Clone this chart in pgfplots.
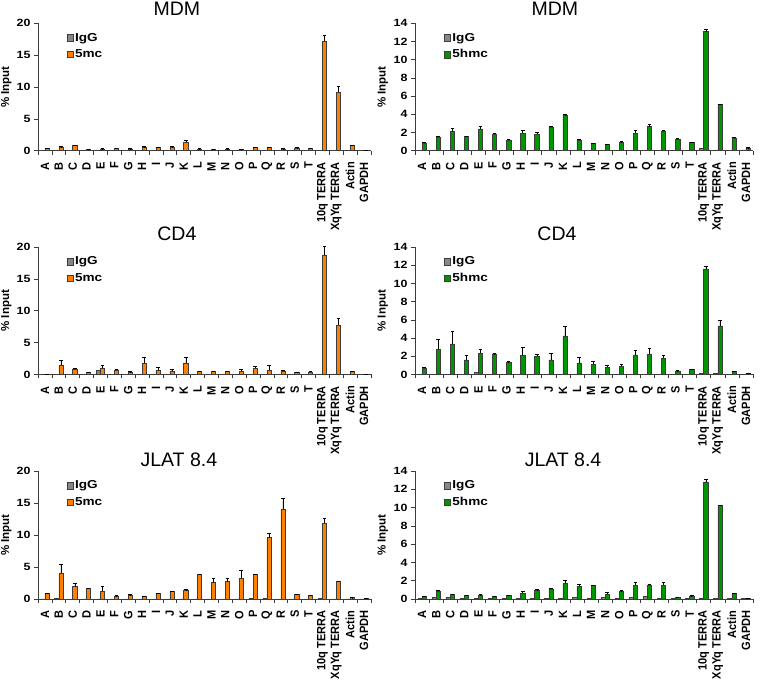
\documentclass[border=0pt]{standalone}
\usepackage{fontspec}
\setmainfont{Liberation Sans}
\newfontfamily\wide{Liberation Sans}[FakeStretch=1.18]
\newfontfamily\narrow{Liberation Sans}[FakeStretch=0.92]
\usepackage{pgfplots}
\usepackage{pgfplotstable}
\pgfplotsset{compat=1.18}

\definecolor{igg}{RGB}{135,135,135}
\definecolor{mc}{RGB}{255,128,0}
\definecolor{hmc}{RGB}{0,150,0}
\definecolor{edge}{RGB}{60,60,60}

% columns: x, IgG, antibody value, error (upward)
\pgfplotstableread{
x igg v e
0 0.05 0.40 0.05
1 0.05 0.60 0.05
2 0.05 0.80 0.05
3 0.05 0.20 0.02
4 0.05 0.30 0.03
5 0.05 0.40 0.03
6 0.05 0.30 0.03
7 0.05 0.60 0.03
8 0.05 0.55 0.03
9 0.05 0.60 0.05
10 0.05 1.35 0.25
11 0.05 0.30 0.03
12 0.05 0.25 0.03
13 0.05 0.30 0.03
14 0.05 0.20 0.03
15 0.05 0.50 0.03
16 0.05 0.55 0.03
17 0.05 0.30 0.02
18 0.05 0.45 0.03
19 0.05 0.35 0.03
20 0.08 17.2 0.9
21 0.08 9.2 0.85
22 0.05 0.80 0.05
23 0.05 0.10 0.02
}\mdmmc

\pgfplotstableread{
x igg v e
0 0.05 0.85 0.10
1 0.10 1.50 0.10
2 0.05 2.10 0.35
3 0.05 1.55 0.08
4 0.05 2.40 0.30
5 0.05 1.80 0.10
6 0.05 1.20 0.10
7 0.05 1.90 0.30
8 0.05 1.83 0.20
9 0.05 2.60 0.10
10 0.05 3.90 0.05
11 0.05 1.20 0.05
12 0.05 0.84 0.03
13 0.05 0.70 0.05
14 0.05 0.90 0.10
15 0.05 1.94 0.30
16 0.05 2.64 0.30
17 0.05 2.16 0.10
18 0.05 1.25 0.10
19 0.05 0.95 0.03
20 0.25 13.08 0.30
21 0.10 5.09 0.05
22 0.05 1.39 0.10
23 0.10 0.30 0.05
}\mdmhmc

\pgfplotstableread{
x igg v e
0 0.02 0.03 0.00
1 0.05 1.47 0.70
2 0.05 0.90 0.05
3 0.05 0.30 0.05
4 0.70 1.05 0.40
5 0.05 0.73 0.10
6 0.05 0.40 0.05
7 0.05 1.73 0.95
8 0.05 0.70 0.40
9 0.05 0.55 0.30
10 0.05 1.73 0.90
11 0.05 0.50 0.05
12 0.05 0.45 0.05
13 0.05 0.45 0.05
14 0.05 0.50 0.30
15 0.05 1.00 0.30
16 0.05 0.70 0.75
17 0.05 0.55 0.10
18 0.05 0.30 0.05
19 0.05 0.40 0.10
20 0.10 18.7 1.35
21 0.10 7.75 1.10
22 0.05 0.45 0.10
23 0.03 0.05 0.00
}\cdmc

\pgfplotstableread{
x igg v e
0 0.03 0.73 0.10
1 0.03 2.75 1.10
2 0.03 3.37 1.40
3 0.03 1.60 0.55
4 0.25 2.34 0.40
5 0.03 2.20 0.10
6 0.03 1.32 0.08
7 0.03 2.09 0.85
8 0.03 1.98 0.25
9 0.03 1.60 0.77
10 0.03 4.25 1.10
11 0.03 1.28 0.60
12 0.03 1.13 0.30
13 0.03 0.77 0.20
14 0.03 0.88 0.20
15 0.03 2.16 0.50
16 0.03 2.23 0.60
17 0.03 1.76 0.30
18 0.03 0.40 0.03
19 0.03 0.58 0.05
20 0.15 11.6 0.30
21 0.10 5.35 0.60
22 0.03 0.33 0.05
23 0.05 0.15 0.02
}\cdhmc

\pgfplotstableread{
x igg v e
0 0.03 0.83 0.05
1 0.10 4.05 1.35
2 0.03 1.92 0.60
3 0.03 1.70 0.05
4 0.03 1.20 0.80
5 0.03 0.47 0.05
6 0.03 0.62 0.05
7 0.03 0.36 0.05
8 0.03 0.83 0.05
9 0.03 1.20 0.05
10 0.03 1.35 0.10
11 0.03 3.80 0.10
12 0.03 2.55 0.70
13 0.03 2.70 0.57
14 0.03 3.27 1.15
15 0.15 3.85 0.05
16 0.15 9.60 0.70
17 0.03 14.0 1.75
18 0.03 0.68 0.05
19 0.03 0.52 0.05
20 0.05 11.85 0.80
21 0.03 2.75 0.05
22 0.03 0.20 0.02
23 0.03 0.10 0.02
}\jlmc

\pgfplotstableread{
x igg v e
0 0.03 0.29 0.03
1 0.15 0.84 0.10
2 0.15 0.50 0.05
3 0.03 0.40 0.05
4 0.03 0.44 0.03
5 0.03 0.29 0.03
6 0.10 0.36 0.03
7 0.03 0.62 0.20
8 0.03 0.99 0.03
9 0.03 1.06 0.10
10 0.05 1.72 0.35
11 0.20 1.42 0.20
12 0.03 1.50 0.03
13 0.15 0.50 0.25
14 0.03 0.88 0.03
15 0.15 1.53 0.30
16 0.25 1.53 0.10
17 0.03 1.50 0.30
18 0.03 0.18 0.02
19 0.10 0.33 0.05
20 0.05 12.8 0.30
21 0.05 10.2 0.10
22 0.10 0.58 0.05
23 0.03 0.07 0.02
}\jlhmc

\pgfplotsset{
  panel/.style={
    scale only axis,
    ybar,
    bar width=0.3,
    xmin=-0.5, xmax=23.5, ymin=0,
    axis x line*=bottom, axis y line*=left,
    axis line style={-, edge, line width=0.7pt},
    tick align=outside,
    major tick length=4pt, minor tick length=4pt,
    tick style={edge, line width=0.6pt},
    xtick={0,...,23},
    xticklabels={A,B,C,D,E,F,G,H,I,J,K,L,M,N,O,P,Q,R,S,T,10q TERRA,XqYq TERRA,Actin,GAPDH},
    major x tick style={draw=none},
    minor xtick={-0.5,0.5,...,23.5},
    xticklabel shift=4pt,
    x tick label style={rotate=90, anchor=east, font=\fontsize{12}{12}\narrow\bfseries},
    y tick label style={font=\fontsize{10.5}{10.5}\wide\bfseries},
    /pgf/number format/assume math mode=true,
    ylabel={\% Input},
    ylabel style={at={(axis description cs:-0.095,0.5)}, anchor=center, font=\fontsize{11.5}{11.5}\selectfont\bfseries},
    title style={font=\fontsize{19.5}{19.5}\selectfont, anchor=base},
    legend style={draw=none, fill=none, at={(axis description cs:0.085,0.94)}, anchor=north west,
      font=\fontsize{11.5}{11.5}\wide\bfseries, row sep=3pt, inner sep=0pt},
    legend cell align=left,
    legend image code/.code={\draw[#1] (0pt,-3.2pt) rectangle (6pt,3.2pt);},
  },
  mcax/.style={panel, width=333pt, ymax=20, ytick={0,5,...,20}},
  hmcax/.style={panel, width=338pt, ymax=14, ytick={0,2,...,14}},
  iggbar/.style={fill=igg, draw=edge, line width=0.5pt, bar shift=-0.15},
  mainbar/.style={fill=#1, draw=edge, line width=0.5pt, bar shift=0.15,
    error bars/.cd, y dir=plus, y explicit,
    error bar style={black, line width=0.5pt},
    error mark options={rotate=90, mark size=1.8pt, line width=0.5pt, black}},
}

\begin{document}
\begin{tikzpicture}
\useasboundingbox (0,0) rectangle (760pt,682pt);

% row 1
\begin{axis}[mcax, height=127.4pt, at={(38pt,531.3pt)}, anchor=south west,
  title={MDM}, title style={at={(axis description cs:0.417,1)}, yshift=1.5pt}]
\addplot[iggbar] table[x=x,y=igg]{\mdmmc};
\addplot[mainbar=mc] table[x=x,y=v,y error=e]{\mdmmc};
\legend{IgG,5mc}
\end{axis}

\begin{axis}[hmcax, height=127.4pt, at={(415pt,531.3pt)}, anchor=south west,
  title={MDM}, title style={at={(axis description cs:0.414,1)}, yshift=1.5pt}]
\addplot[iggbar] table[x=x,y=igg]{\mdmhmc};
\addplot[mainbar=hmc] table[x=x,y=v,y error=e]{\mdmhmc};
\legend{IgG,5hmc}
\end{axis}

% row 2
\begin{axis}[mcax, height=127.5pt, at={(38pt,307.5pt)}, anchor=south west,
  title={CD4}, title style={at={(axis description cs:0.417,1)}}]
\addplot[iggbar] table[x=x,y=igg]{\cdmc};
\addplot[mainbar=mc] table[x=x,y=v,y error=e]{\cdmc};
\legend{IgG,5mc}
\end{axis}

\begin{axis}[hmcax, height=127.5pt, at={(415pt,307.5pt)}, anchor=south west,
  title={CD4}, title style={at={(axis description cs:0.42,1)}}]
\addplot[iggbar] table[x=x,y=igg]{\cdhmc};
\addplot[mainbar=hmc] table[x=x,y=v,y error=e]{\cdhmc};
\legend{IgG,5hmc}
\end{axis}

% row 3
\begin{axis}[mcax, height=128pt, at={(38pt,83pt)}, anchor=south west,
  title={JLAT 8.4}, title style={at={(axis description cs:0.423,1)}, yshift=-2pt}]
\addplot[iggbar] table[x=x,y=igg]{\jlmc};
\addplot[mainbar=mc] table[x=x,y=v,y error=e]{\jlmc};
\legend{IgG,5mc}
\end{axis}

\begin{axis}[hmcax, height=128pt, at={(415pt,83pt)}, anchor=south west,
  title={JLAT 8.4}, title style={at={(axis description cs:0.438,1)}, yshift=-2pt}]
\addplot[iggbar] table[x=x,y=igg]{\jlhmc};
\addplot[mainbar=hmc] table[x=x,y=v,y error=e]{\jlhmc};
\legend{IgG,5hmc}
\end{axis}

\end{tikzpicture}
\end{document}
